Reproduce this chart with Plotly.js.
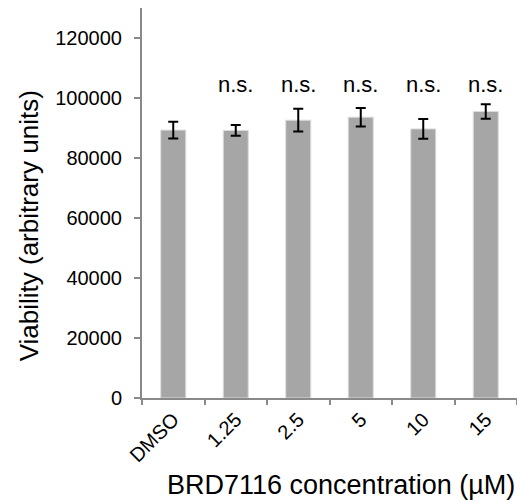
<!DOCTYPE html>
<html>
<head>
<meta charset="utf-8">
<script src="https://cdn.plot.ly/plotly-3.0.1.min.js"></script>
<style>html,body{margin:0;padding:0;background:#fff;}#chart{width:517px;height:500px;}</style>
</head>
<body>
<div id="chart"></div>
<script>
var categories = ["DMSO", "1.25", "2.5", "5", "10", "15"];
var viability = [89300, 89200, 92600, 93600, 89700, 95500];
var errors = [2800, 1800, 3800, 3100, 3300, 2400];
var sigLabels = ["", "n.s.", "n.s.", "n.s.", "n.s.", "n.s."];
var sigLevel = 104400;
var yTicks = [0, 20000, 40000, 60000, 80000, 100000, 120000];
var xTitle = "BRD7116 concentration (µM)";
var yTitle = "Viability (arbitrary units)";

var FONT = "Liberation Sans, Arial, Helvetica, sans-serif";
var axisColor = "#898989";

var annotations = [];
categories.forEach(function (c, i) {
  if (sigLabels[i]) {
    annotations.push({
      x: i, y: sigLevel, xref: "x", yref: "y",
      text: sigLabels[i], showarrow: false,
      xanchor: "center", yanchor: "middle",
      font: {family: FONT, size: 22, color: "#000"}
    });
  }
});
annotations.push({
  xref: "paper", yref: "paper", x: 0.53, y: -0.222,
  xanchor: "center", yanchor: "middle",
  text: xTitle, showarrow: false,
  font: {family: FONT, size: 27, color: "#000"}
});
annotations.push({
  xref: "paper", yref: "paper", x: -0.302, y: 0.442,
  xanchor: "center", yanchor: "middle", textangle: -90,
  text: yTitle, showarrow: false,
  font: {family: FONT, size: 26, color: "#000"}
});

var trace = {
  type: "bar",
  x: categories,
  y: viability,
  width: 0.4,
  marker: {color: "#a6a6a6", line: {color: "#dcdcdc", width: 1}},
  error_y: {type: "data", array: errors, visible: true, color: "#000", thickness: 2, width: 5},
  hoverinfo: "none"
};

var layout = {
  width: 517, height: 500,
  margin: {l: 142, r: 0, t: 8, b: 102, pad: 0},
  paper_bgcolor: "#fff", plot_bgcolor: "#fff",
  showlegend: false,
  font: {family: FONT, size: 20, color: "#000"},
  xaxis: {
    type: "category",
    range: [-0.5, categories.length - 0.5],
    tickmode: "array",
    tickvals: categories,
    ticktext: categories,
    tickangle: -45,
    tickson: "boundaries",
    ticks: "outside", ticklen: 5, tickwidth: 2, tickcolor: axisColor,
    showline: true, linecolor: axisColor, linewidth: 2,
    showgrid: false, zeroline: false,
    tickfont: {family: FONT, size: 20, color: "#000"},
    fixedrange: true
  },
  yaxis: {
    range: [0, 130000],
    tickvals: yTicks,
    tickformat: "d",
    ticks: "outside", ticklen: 6, tickwidth: 2, tickcolor: axisColor,
    ticklabelstandoff: 8,
    showline: true, linecolor: axisColor, linewidth: 2,
    showgrid: false, zeroline: false,
    tickfont: {family: FONT, size: 20, color: "#000"},
    fixedrange: true
  },
  annotations: annotations
};

Plotly.newPlot("chart", [trace], layout, {displayModeBar: false, staticPlot: true});
</script>
</body>
</html>
